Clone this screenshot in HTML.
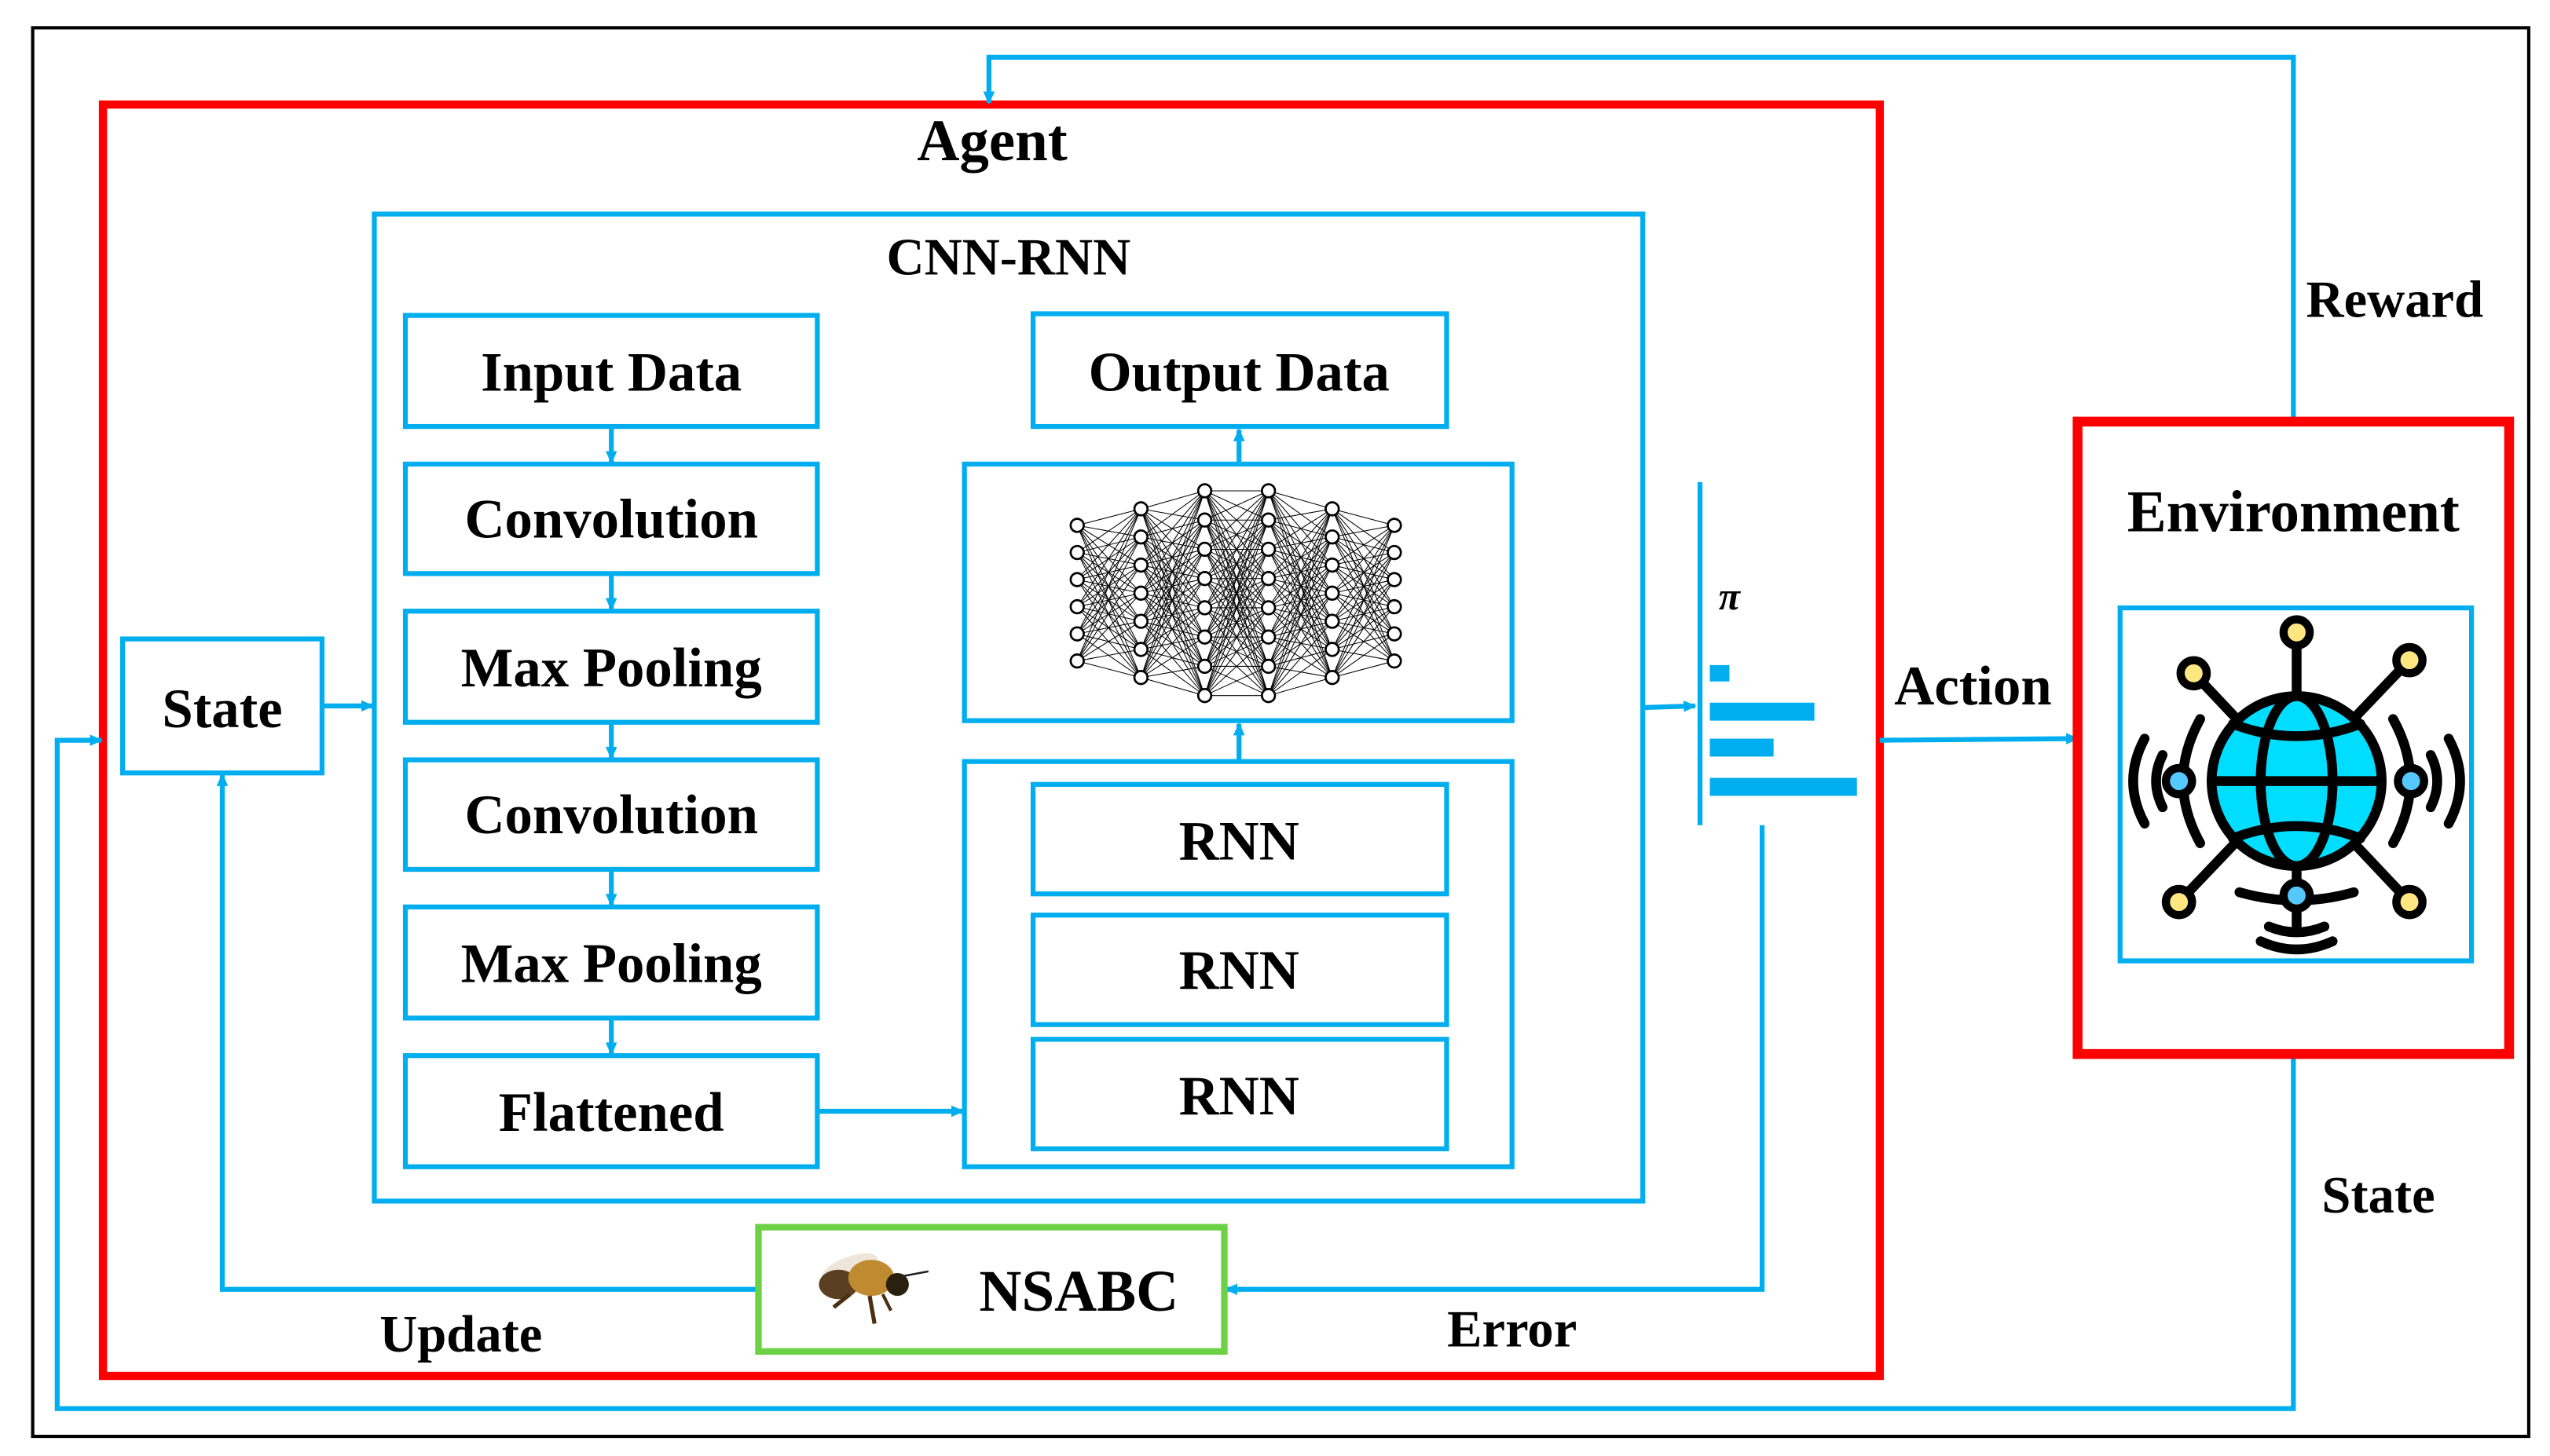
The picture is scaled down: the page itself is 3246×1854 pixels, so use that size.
<!DOCTYPE html>
<html><head><meta charset="utf-8"><style>
html,body{margin:0;padding:0;background:#fff;}
svg{display:block;}
text{font-family:"Liberation Serif",serif;font-weight:bold;fill:#000;}
</style></head><body>
<svg id="s" width="3246" height="1854" viewBox="0 0 1560 891" preserveAspectRatio="none" xmlns="http://www.w3.org/2000/svg">
<defs>
<marker id="a" markerWidth="8" markerHeight="8" refX="7" refY="4" orient="auto" markerUnits="userSpaceOnUse"><path d="M0,0.5 L8,4 L0,7.5 Z" fill="#00aeef"/></marker>
</defs>
<rect x="0" y="0" width="1560" height="891" fill="#fff"/>
<rect x="20" y="17" width="1527" height="862" fill="none" stroke="#000" stroke-width="2"/>
<!-- Agent -->
<rect x="63" y="64" width="1087" height="778" fill="none" stroke="#ff0000" stroke-width="5"/>
<text x="607" y="98" font-size="36" text-anchor="middle">Agent</text>
<!-- CNN-RNN -->
<g fill="none" stroke="#00aeef" stroke-width="3">
<rect x="229" y="131" width="776" height="604"/>
<rect x="248" y="193" width="252" height="68"/>
<rect x="248" y="284" width="252" height="67"/>
<rect x="248" y="374" width="252" height="68"/>
<rect x="248" y="465" width="252" height="67"/>
<rect x="248" y="555" width="252" height="68"/>
<rect x="248" y="646" width="252" height="68"/>
<rect x="632" y="192" width="253" height="69"/>
<rect x="590" y="284" width="335" height="157"/>
<rect x="590" y="466" width="335" height="248"/>
<rect x="632" y="480" width="253" height="67"/>
<rect x="632" y="560" width="253" height="67"/>
<rect x="632" y="636" width="253" height="67"/>
<rect x="75" y="391" width="122" height="82"/>
<rect x="1297" y="372" width="215" height="216"/>
</g>
<text x="617" y="168" font-size="32" text-anchor="middle">CNN-RNN</text>
<g font-size="34" text-anchor="middle">
<text x="374" y="239">Input Data</text>
<text x="374" y="329">Convolution</text>
<text x="374" y="420">Max Pooling</text>
<text x="374" y="510">Convolution</text>
<text x="374" y="601">Max Pooling</text>
<text x="374" y="692">Flattened</text>
<text x="758" y="239">Output Data</text>
<text x="758" y="526">RNN</text>
<text x="758" y="605">RNN</text>
<text x="758" y="682">RNN</text>
<text x="136" y="445">State</text>
</g>
<!-- arrows -->
<g fill="none" stroke="#00aeef" stroke-width="3" marker-end="url(#a)">
<line x1="374" y1="261" x2="374" y2="283"/>
<line x1="374" y1="351" x2="374" y2="373"/>
<line x1="374" y1="442" x2="374" y2="464"/>
<line x1="374" y1="532" x2="374" y2="554"/>
<line x1="374" y1="623" x2="374" y2="645"/>
<line x1="758" y1="284" x2="758" y2="263"/>
<line x1="758" y1="466" x2="758" y2="443"/>
<line x1="500" y1="680" x2="589" y2="680"/>
<line x1="197" y1="432" x2="228" y2="432"/>
<line x1="1005" y1="433" x2="1037" y2="432"/>
<line x1="1150" y1="453" x2="1271" y2="452"/>
<polyline points="1403,258 1403,35 605,35 605,63"/>
<polyline points="1403,645 1403,862 35,862 35,453 62,453"/>
<polyline points="1078,505 1078,789 750,789"/>
<polyline points="464,789 136,789 136,474"/>
</g>
<!-- policy -->
<line x1="1040" y1="295" x2="1040" y2="505" stroke="#00aeef" stroke-width="3"/>
<text x="1058" y="373" font-size="24" text-anchor="middle" font-style="italic">π</text>
<g fill="#00aeef">
<rect x="1046" y="407" width="12" height="10"/>
<rect x="1046" y="430" width="64" height="11"/>
<rect x="1046" y="452" width="39" height="11"/>
<rect x="1046" y="476" width="90" height="11"/>
</g>
<text x="1207" y="431" font-size="34" text-anchor="middle">Action</text>
<text x="1465" y="194" font-size="32" text-anchor="middle">Reward</text>
<text x="1455" y="742" font-size="32" text-anchor="middle">State</text>
<text x="282" y="827" font-size="32" text-anchor="middle">Update</text>
<text x="925" y="824" font-size="32" text-anchor="middle">Error</text>
<!-- Environment -->
<rect x="1271" y="258" width="264" height="387" fill="none" stroke="#ff0000" stroke-width="6"/>
<text x="1403" y="325" font-size="36" text-anchor="middle">Environment</text>
<g stroke="#000" stroke-width="6" fill="none" stroke-linecap="round">
<line x1="1405" y1="387" x2="1405" y2="570"/>
<line x1="1342" y1="412" x2="1474" y2="552"/>
<line x1="1474" y1="404" x2="1333" y2="552"/>
<circle cx="1405" cy="478" r="52" fill="#00ddff"/>
<ellipse cx="1405" cy="478" rx="22" ry="52"/>
<line x1="1353" y1="478" x2="1457" y2="478"/>
<path d="M1366,443 Q1405,458 1444,443"/>
<path d="M1366,513 Q1405,498 1444,513"/>
<path d="M1346,440 Q1325,478 1346,516"/>
<path d="M1464,440 Q1485,478 1464,516"/>
<path d="M1323,462 Q1315,478 1323,494"/>
<path d="M1312,452 Q1298,478 1312,504"/>
<path d="M1487,462 Q1495,478 1487,494"/>
<path d="M1498,452 Q1512,478 1498,504"/>
<path d="M1370,546 Q1405,556 1440,546"/>
<path d="M1388,567 Q1405,574 1422,567"/>
<path d="M1383,576 Q1405,586 1427,576"/>
</g>
<g stroke="#000" stroke-width="5">
<circle cx="1405" cy="387" r="8" fill="#ffe680"/>
<circle cx="1342" cy="412" r="8" fill="#ffe680"/>
<circle cx="1474" cy="404" r="8" fill="#ffe680"/>
<circle cx="1333" cy="552" r="8" fill="#ffe680"/>
<circle cx="1474" cy="552" r="8" fill="#ffe680"/>
<circle cx="1333" cy="478" r="8" fill="#55c8ff"/>
<circle cx="1475" cy="478" r="8" fill="#55c8ff"/>
<circle cx="1405" cy="548" r="8" fill="#55c8ff"/>
</g>
<!-- NSABC -->
<rect x="464" y="751" width="285" height="76" fill="none" stroke="#6dd144" stroke-width="4"/>
<text x="660" y="802" font-size="36" text-anchor="middle">NSABC</text>
<g>
<ellipse cx="520" cy="776" rx="18" ry="7" fill="#e8e0d0" transform="rotate(-20 520 776)" opacity="0.8"/>
<ellipse cx="513" cy="786" rx="12" ry="9" fill="#5a4020"/>
<ellipse cx="533" cy="782" rx="14" ry="11" fill="#c08a30"/>
<circle cx="549" cy="786" r="7" fill="#2a2010"/>
<line x1="552" y1="781" x2="568" y2="778" stroke="#222" stroke-width="1.2"/>
<line x1="520" y1="792" x2="510" y2="800" stroke="#4a3010" stroke-width="2.5"/>
<line x1="532" y1="793" x2="535" y2="810" stroke="#4a3010" stroke-width="2.5"/>
<line x1="540" y1="792" x2="545" y2="802" stroke="#4a3010" stroke-width="2"/>
</g>
<g id="nn"></g>
</svg>
<script>
(function(){
var xs=[659,698,737,776,815,853],cnt=[6,7,8,8,7,6],L=[];
for(var i=0;i<6;i++){var n=cnt[i],top=363-(n-1)*17.8/2*1,arr=[];
 var step=(n==6?16.6:(n==7?17.2:17.9));top=363-(n-1)*step/2;
 for(var j=0;j<n;j++)arr.push([xs[i],top+j*step]);L.push(arr);}
var g=document.getElementById('nn'),ns='http://www.w3.org/2000/svg',h='';
for(var i=0;i<5;i++)for(var a=0;a<L[i].length;a++)for(var b=0;b<L[i+1].length;b++)
 h+='<line x1="'+L[i][a][0]+'" y1="'+L[i][a][1]+'" x2="'+L[i+1][b][0]+'" y2="'+L[i+1][b][1]+'" stroke="#000" stroke-width="0.5"/>';
for(var i=0;i<6;i++)for(var a=0;a<L[i].length;a++)
 h+='<circle cx="'+L[i][a][0]+'" cy="'+L[i][a][1]+'" r="4" fill="#fff" stroke="#000" stroke-width="1.3"/>';
g.innerHTML=h;
})();
</script>
</body></html>
